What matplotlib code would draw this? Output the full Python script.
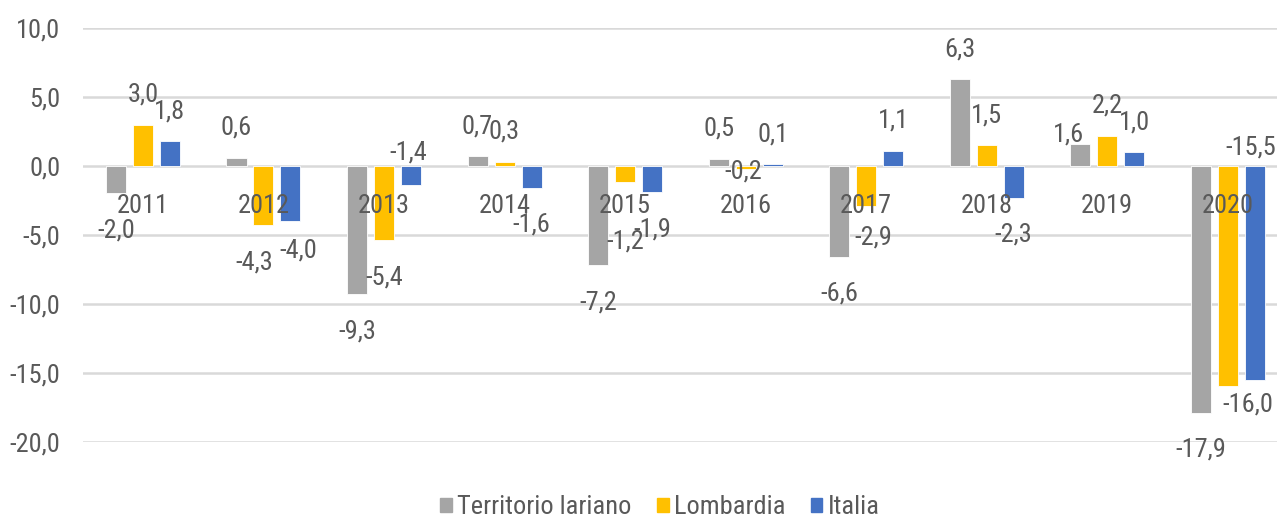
import matplotlib
matplotlib.use("Agg")
import matplotlib.pyplot as plt
from matplotlib import font_manager
from matplotlib.patches import Patch
from matplotlib.ticker import FuncFormatter
import numpy as np

years = ["2011", "2012", "2013", "2014", "2015", "2016", "2017", "2018", "2019", "2020"]
series_names = ["Territorio lariano", "Lombardia", "Italia"]
territorio = [-2.0, 0.6, -9.3, 0.7, -7.2, 0.5, -6.6, 6.3, 1.6, -17.9]
lombardia = [3.0, -4.3, -5.4, 0.3, -1.2, -0.2, -2.9, 1.5, 2.2, -16.0]
italia = [1.8, -4.0, -1.4, -1.6, -1.9, 0.1, 1.1, -2.3, 1.0, -15.5]
yticks = [10, 5, 0, -5, -10, -15, -20]

colors = ["#A5A5A5", "#FFC000", "#4472C4"]
text_col = "#595959"

# pick a narrow font if one is there
available = {f.name for f in font_manager.fontManager.ttflist}
font = "DejaVu Sans"
for cand in ["Liberation Sans Narrow", "Roboto Condensed", "Open Sans Condensed", "Noto Sans Condensed"]:
    if cand in available:
        font = cand
        break
plt.rcParams["font.family"] = [font, "DejaVu Sans"]
fs = 19

# label placement tweaks (px): key -> (anchor, dx, dy)
label_moves = {
    (0, 8): ("end", -12, 9),
    (1, 1): ("end", -9, -37),
    (2, 1): ("end", 8, -29),
    (1, 4): ("end", 0, -59),
    (1, 5): ("end", -2, -3),
    (1, 6): ("end", 7, -32),
    (1, 9): ("end", 20, -18),
    (2, 2): ("base", -3, 13),
    (2, 9): ("base", -4, 18),
}

fig = plt.figure(figsize=(12.77, 5.18), dpi=100)
ax = fig.add_axes([82.7 / 1277, 1 - 441.6 / 518, 1205.3 / 1277, (441.6 - 28) / 518])

x = np.arange(len(years))
pitch = 0.224
width = 0.166
data = [territorio, lombardia, italia]
for j, vals in enumerate(data):
    pos = x + (j - 1) * pitch
    ax.bar(pos, vals, width, color=colors[j], edgecolor="white", linewidth=0.6, zorder=2)
    for i, v in enumerate(vals):
        anchor, dx, dy = label_moves.get((j, i), ("end", 0, 30 if v >= 0 else -37))
        yref = v if anchor == "end" else 0
        ax.annotate(f"{v:.1f}".replace(".", ","), (pos[i], yref), xytext=(dx, dy),
                    textcoords="offset pixels", ha="center", va="center",
                    fontsize=fs, color=text_col, zorder=5, annotation_clip=False)

# year labels sit just under the zero line, over the bars
for i, yr in enumerate(years):
    ax.annotate(yr, (x[i], 0), xytext=(0, -40), textcoords="offset pixels",
                ha="center", va="center", fontsize=fs, color=text_col, zorder=5)

ax.set_xlim(-0.5, len(years) - 0.5)
ax.set_ylim(-20, 10)
ax.set_yticks(yticks)
ax.yaxis.set_major_formatter(FuncFormatter(lambda v, p: f"{v:.1f}".replace(".", ",")))
ax.set_xticks([])
ax.tick_params(axis="y", length=0, pad=16, labelsize=fs, labelcolor=text_col)
ax.grid(axis="y", color="#D9D9D9", linewidth=1.8, zorder=0)
ax.set_axisbelow(True)
for s in ax.spines.values():
    s.set_visible(False)

handles = [Patch(color=c) for c in colors]
fig.legend(handles, series_names, loc="center", bbox_to_anchor=(660 / 1277, 1 - 507 / 518),
           ncol=3, frameon=False, fontsize=fs, labelcolor=text_col,
           handlelength=0.45, handleheight=0.45, handletextpad=0.2, columnspacing=0.95)

fig.savefig("out.png", dpi=100)
